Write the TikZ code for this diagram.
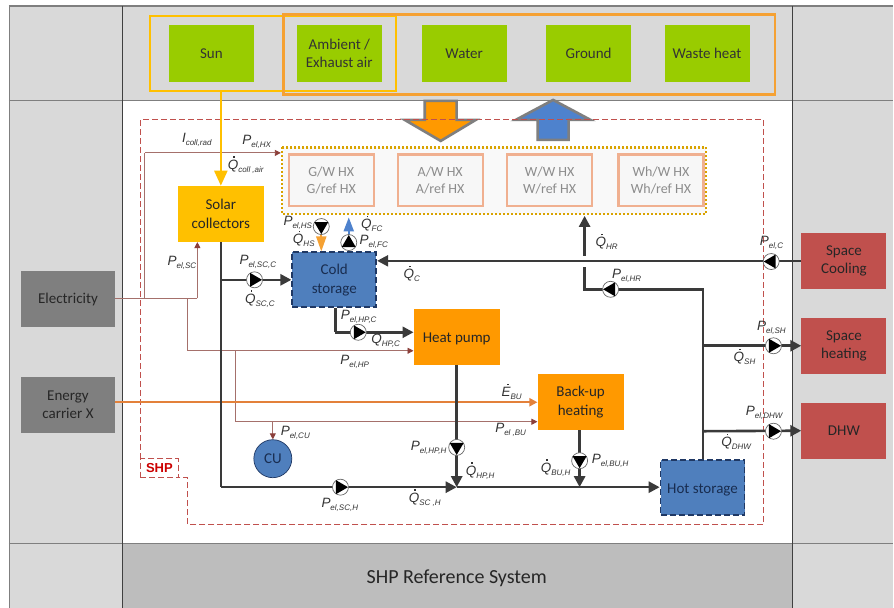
\documentclass[tikz,border=0pt]{standalone}
\usepackage{fontspec}
\setmainfont{Carlito}
\setsansfont{Liberation Sans}
\usetikzlibrary{shapes.geometric, arrows.meta, positioning, fit, backgrounds}
\definecolor{panelgray}{HTML}{D9D9D9}
\definecolor{footgray}{HTML}{BDBDBD}
\definecolor{rulegray}{HTML}{7F7F7F}
\definecolor{sourcegreen}{HTML}{99CC00}
\definecolor{sunyellow}{HTML}{FFC000}
\definecolor{envorange}{HTML}{F5A133}
\definecolor{pumporange}{HTML}{FF9900}
\definecolor{storeblue}{HTML}{4F7FBD}
\definecolor{flowblue}{HTML}{4E82CD}
\definecolor{storedash}{HTML}{1F3864}
\definecolor{demandred}{HTML}{C0504D}
\definecolor{elecbrown}{HTML}{A5706B}
\definecolor{headbrown}{HTML}{8C3F3A}
\definecolor{boxgray}{HTML}{7F7F7F}
\definecolor{pipegray}{HTML}{3A3A3A}
\definecolor{hxpeach}{HTML}{F0B090}
\definecolor{hxtext}{HTML}{8C8C8C}
\definecolor{carrierorange}{HTML}{E3813A}
\newcommand{\sym}[2]{{\fontsize{13.5}{13.5}\selectfont\textit{#1}}\raisebox{-3pt}{\fontsize{8}{8}\selectfont\textit{#2}}}
\newcommand{\dsym}[2]{\rlap{\hspace{5.6pt}\raisebox{11.4pt}{\rule{1.4pt}{1.4pt}}}\sym{#1}{#2}}
\begin{document}
\begin{tikzpicture}[x=1pt,y=-1pt]
  \tikzstyle{source} = [rectangle, minimum width=85pt, minimum height=57pt, align=center, fill=sourcegreen, font=\fontsize{15}{18.7}\selectfont, text=black!80]
  \tikzstyle{hxbox} = [rectangle, draw=hxpeach, line width=2.2pt, fill=gray!6, minimum width=85pt, minimum height=52pt, align=center, text=hxtext, font=\fontsize{14}{16.7}\selectfont]
  \tikzstyle{unit} = [rectangle, minimum width=86pt, minimum height=56pt, align=center, fill=pumporange, text=black!85, font=\fontsize{15}{18.7}\selectfont]
  \tikzstyle{storage} = [rectangle, draw=storedash, dash pattern=on 6pt off 3pt, line width=1.8pt, fill=storeblue, minimum width=84pt, minimum height=55pt, align=center, text=storedash!80!black, font=\fontsize{15}{18.7}\selectfont]
  \tikzstyle{outside} = [rectangle, minimum width=94pt, minimum height=56pt, align=center, fill=boxgray, text=black!85, font=\fontsize{15}{18.7}\selectfont]
  \tikzstyle{demand} = [rectangle, minimum width=85pt, minimum height=56pt, align=center, fill=demandred, text=black!85, font=\fontsize{15}{18.7}\selectfont]
  \tikzstyle{pipe} = [line width=2.6pt, draw=pipegray, -{Triangle[length=11pt,width=11pt]}]
  \tikzstyle{plainpipe} = [line width=2.6pt, draw=pipegray]
  \tikzstyle{elec} = [line width=.9pt, draw=elecbrown, -{Triangle[length=6pt,width=6pt,color=headbrown]}]
  \tikzstyle{plainelec} = [line width=.9pt, draw=elecbrown]
  \tikzstyle{pumpring} = [draw=black!60, fill=white, line width=.7pt]
  \tikzstyle{lbl} = [inner sep=0pt, font=\sffamily, text=black!80]
  \tikzstyle{shpline} = [demandred, dash pattern=on 6pt off 3pt, line width=.9pt]

  % Background panels
  \fill[white] (0,0) rectangle (894,608);
  \fill[panelgray] (9,6) rectangle (122.5,608);
  \fill[panelgray] (793,6) rectangle (894,608);
  \fill[panelgray] (122.5,6) rectangle (793,100);
  \fill[footgray] (122.5,544) rectangle (793,608);
  \node (foottext) at (457,576.5) [font=\fontsize{20}{22}\selectfont, text=black!85, text height=17pt] {SHP Reference System};
  \coordinate (tl) at (9,6);
  \coordinate (tr) at (894,6);
  \coordinate (ml) at (9,100.5);
  \coordinate (mr) at (894,100.5);
  \coordinate (bl) at (9,544);
  \coordinate (br) at (894,544);
  \coordinate (vla) at (122.5,6);
  \coordinate (vlb) at (122.5,608);
  \coordinate (vra) at (793,6);
  \coordinate (vrb) at (793,608);
  \draw[rulegray, line width=1.2pt] (tl) -- (tr);
  \draw[rulegray, line width=1.2pt] (ml) -- (mr);
  \draw[rulegray, line width=1.2pt] (bl) -- (br);
  \draw[rulegray, line width=.8pt] (tl) -- (9,608);
  \draw[black!75, line width=.8pt] (vla) -- (vlb);
  \draw[black!75, line width=.8pt] (vra) -- (vrb);

  % Exchange arrows
  \fill[flowblue, draw=rulegray, line width=2.6pt] (538,140) -- (569,140) -- (569,120) -- (591,120) -- (553.5,100) -- (516,120) -- (538,120) -- cycle;

  % SHP boundary
  \draw[shpline] (140.5,459) -- (140.5,120) -- (764,120) -- (764,525) -- (188,525) -- (188,478) -- (178,478);
  \node (shp) at (159.5,468.5) [draw=demandred, shpline, minimum width=38pt, minimum height=19pt, inner sep=0pt, text=red!80!black, font=\sffamily\bfseries\fontsize{13}{14}\selectfont] {SHP};
  \fill[pumporange, draw=rulegray, line width=2.6pt] (425,101) -- (457,101) -- (457,120) -- (476,120) -- (441,141) -- (405,120) -- (425,120) -- cycle;
  \draw[shpline] (404,120) -- (478,120);

  % Sources
  \node (sun) at (211.5,53.5) [source] {Sun};
  \node (air) at (339.5,53.5) [source] {Ambient /\\Exhaust air};
  \node (water) at (464.5,53.5) [source] {Water};
  \node (ground) at (589,53.5) [source] {Ground};
  \node (waste) at (707.5,53.5) [source] {Waste heat};
  \coordinate (sunsouth) at (221,91);
  \draw[sunyellow, line width=2pt] (150,16) rectangle (396.5,91);
  \draw[envorange, line width=2.4pt] (283.5,14.5) rectangle (775.5,94.5);

  % Heat exchangers
  \draw[sunyellow!85!black, dash pattern=on 2pt off 2pt, line width=2.2pt, fill=gray!5] (282.5,147.5) rectangle (706.5,214.5);
  \coordinate (hxwest) at (281,153);
  \node (hxg) at (331.5,180.5) [hxbox] {G/W HX\\G/ref HX};
  \node (hxa) at (440.5,180.5) [hxbox] {A/W HX\\A/ref HX};
  \node (hxw) at (550,180.5) [hxbox] {W/W HX\\W/ref HX};
  \node (hxwh) at (661.5,180.5) [hxbox] {Wh/W HX\\Wh/ref HX};

  % Units
  \node (coll) at (221,214) [unit, fill=sunyellow] {Solar\\collectors};
  \node (cold) at (334.5,280) [storage] {Cold\\storage};
  \node (hp) at (457,337) [unit, text height=14.5pt] {Heat pump};
  \node (bu) at (581,402.5) [unit] {Back-up\\heating};
  \node (hot) at (703,487.5) [storage, text height=15pt] {Hot storage};
  \node (cu) at (273,459) [circle, draw=storedash, line width=.7pt, fill=storeblue, minimum size=38pt, inner sep=0pt, font=\fontsize{15}{16}\selectfont, text=storedash!80!black] {CU};

  % Outside boxes
  \node (elecbox) at (68,299) [outside, text height=12.5pt] {Electricity};
  \node (carrier) at (68,405) [outside] {Energy\\carrier X};
  \node (cooling) at (844.5,261) [demand] {Space\\Cooling};
  \node (heating) at (844.5,346) [demand] {Space\\heating};
  \node (dhw) at (844.5,431) [demand] {DHW};

  % Routing points
  \coordinate (eA) at (145,298.5);
  \coordinate (eB) at (145,153);
  \coordinate (eC) at (197.5,298.5);
  \coordinate (eD) at (188,298.5);
  \coordinate (eE) at (188,351);
  \coordinate (eF) at (235.5,351);
  \coordinate (eG) at (235.5,422);
  \coordinate (eH) at (273,422);
  \coordinate (cB) at (221,487.5);
  \coordinate (cC) at (335.5,332.5);
  \coordinate (hA) at (457,487.5);
  \coordinate (hB) at (580,487.5);
  \coordinate (rA) at (703.5,289.5);
  \coordinate (rB) at (585,289.5);
  \coordinate (rC) at (585,267);
  \coordinate (rD) at (585,256);
  \coordinate (rE) at (585,216);
  \coordinate (shA) at (703.5,346);
  \coordinate (dhA) at (703.5,431.5);

  % Electric lines
  \draw[plainelec] (elecbox.east |- eA) -- (eC);
  \draw[plainelec] (eA) -- (eB);
  \draw[elec] (eB) -- (hxwest);
  \draw[elec] (eC) -- (coll.south -| eC);
  \draw[plainelec] (eD) -- (eE);
  \draw[elec] (eE) -- (hp.west |- eE);
  \draw[plainelec] (eF) -- (eG);
  \draw[elec] (eG) -- (bu.west |- eG);
  \draw[elec] (eH) -- (cu.north);

  % Carrier and sun lines
  \draw[carrierorange, line width=2pt, -{Triangle[length=8pt,width=8pt]}] (carrier.east |- bu.west) -- (bu.west);
  \draw[sunyellow, line width=2.4pt, -{Triangle[length=15pt,width=13pt]}] (sunsouth) -- (coll.north);

  % Heat lines
  \draw[plainpipe] (coll.south) -- (cB);
  \draw[pipe] (cB) -- (hA);
  \draw[pipe] (hA) -- (hot.west);
  \draw[pipe] (coll.south |- cold.west) -- (cold.west);
  \draw[plainpipe] (cC |- cold.south) -- (cC);
  \draw[pipe] (cC) -- (hp.west |- cC);
  \draw[pipe] (hp.south) -- (hA);
  \draw[pipe] (bu.south -| hB) -- (hB);
  \draw[pipe, line width=2.2pt] (cooling.west) -- (cold.east |- cooling.west);
  \draw[plainpipe] (hot.north -| rA) -- (rA) -- (rB) -- (rC);
  \draw[pipe] (rD) -- (rE);
  \draw[pipe] (shA) -- (heating.west);
  \draw[pipe] (dhA) -- (dhw.west);

  % Cold storage links to the exchangers
  \draw[envorange, line width=2pt, -{Triangle[length=15pt,width=10pt]}] (321.5,232) -- (cold.north -| 321.5,0);
  \draw[flowblue, line width=2pt, -{Triangle[length=14pt,width=10pt]}] (349,236) -- (349,217.5);

  % Pumps
  \foreach \pumpx/\pumpy/\pumpang in {254.7/280/0, 321.5/226.7/-90, 349/242.7/90, 771.7/261.7/180, 611/289.5/180, 358.5/332.5/0, 457/447.7/-90, 580/461/-90, 340.7/487.5/0, 774/346/0, 774/431.5/0}{
    \draw[pumpring] (\pumpx,\pumpy) circle (8);
    \fill[black, shift={(\pumpx,\pumpy)}, rotate=\pumpang] (-4.5,-7) -- (7.5,0) -- (-4.5,7) -- cycle;
  }

  % Labels
  \node (lirad) at (197,140) [lbl] {\sym{I}{coll,rad}};
  \node (lhx) at (257,142) [lbl] {\sym{P}{el,HX}};
  \node (lqair) at (246,165) [lbl] {\dsym{Q}{coll ,air}};
  \node (lsc) at (182,263) [lbl] {\sym{P}{el,SC}};
  \node (lscc) at (258,262) [lbl] {\sym{P}{el,SC,C}};
  \node (lqscc) at (260,299) [lbl] {\dsym{Q}{SC,C}};
  \node (lhs) at (298,223) [lbl] {\sym{P}{el,HS}};
  \node (lqhs) at (304,239) [lbl] {\dsym{Q}{HS}};
  \node (lqfc) at (372,224) [lbl] {\dsym{Q}{FC}};
  \node (lfc) at (374,242) [lbl] {\sym{P}{el,FC}};
  \node (lqc) at (412,274) [lbl] {\dsym{Q}{C}};
  \node (lqhr) at (607,242) [lbl] {\dsym{Q}{HR}};
  \node (lc) at (772,243) [lbl] {\sym{P}{el,C}};
  \node (lhr) at (627,276) [lbl] {\sym{P}{el,HR}};
  \node (lhpc) at (359,317) [lbl] {\sym{P}{el,HP,C}};
  \node (lqhpc) at (386,341) [lbl] {\sym{Q}{HP,C}};
  \node (lhp) at (355,362) [lbl] {\sym{P}{el,HP}};
  \node (lebu) at (512,392) [lbl] {\dsym{E}{BU}};
  \node (lbu) at (511,430) [lbl] {\sym{P}{el ,BU}};
  \node (lcu) at (295.5,433) [lbl] {\sym{P}{el,CU}};
  \node (lhph) at (429,448) [lbl] {\sym{P}{el,HP,H}};
  \node (lqhph) at (480.5,471) [lbl] {\dsym{Q}{HP,H}};
  \node (lqbuh) at (556,468) [lbl] {\dsym{Q}{BU,H}};
  \node (lbuh) at (610.5,461) [lbl] {\sym{P}{el,BU,H}};
  \node (lqsch) at (425,498) [lbl] {\dsym{Q}{SC ,H}};
  \node (lsch) at (340,505) [lbl] {\sym{P}{el,SC,H}};
  \node (lsh) at (772,328) [lbl] {\sym{P}{el,SH}};
  \node (lqsh) at (745,357) [lbl] {\dsym{Q}{SH}};
  \node (ldhw) at (765,413) [lbl] {\sym{P}{el,DHW}};
  \node (lqdhw) at (737,442) [lbl] {\dsym{Q}{DHW}};
\end{tikzpicture}
\end{document}
